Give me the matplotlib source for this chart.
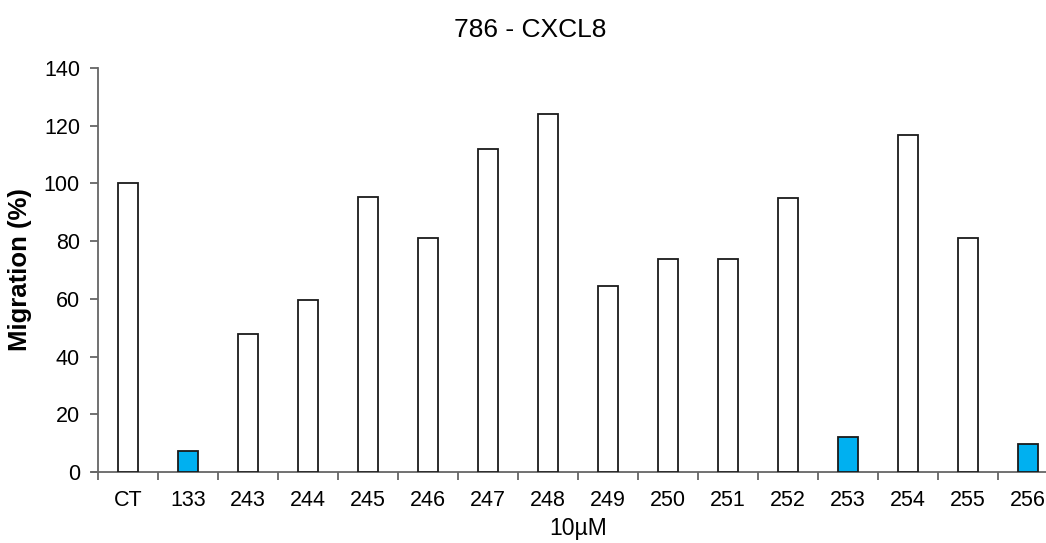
import matplotlib
matplotlib.use("Agg")
import matplotlib.pyplot as plt
import numpy as np

categories = ["CT", "133", "243", "244", "245", "246", "247", "248", "249",
              "250", "251", "252", "253", "254", "255", "256"]
migration = [100, 7.3, 47.8, 59.6, 95.3, 81.1, 111.9, 124, 64.4,
             73.8, 73.8, 95, 12.1, 116.8, 81.1, 9.7]
highlight = ["133", "253", "256"]

plt.rcParams['font.family'] = ['Liberation Sans', 'DejaVu Sans']

fig = plt.figure(figsize=(10.46, 5.43), dpi=100)
ax = fig.add_axes([98/1046, 71/543, 960/1046, 404/543])

x = np.arange(len(categories))
colors = ['#00B0F0' if c in highlight else 'white' for c in categories]
ax.bar(x, migration, width=0.33, color=colors, edgecolor='#1a1a1a', linewidth=1.3, zorder=3)

ax.set_xlim(-0.5, 15.5)
ax.set_ylim(0, 140)
ax.set_yticks(np.arange(0, 141, 20))
ax.set_xticks(np.arange(-0.5, 15.6, 1))
ax.set_xticklabels([])
ax.set_xticks(x, minor=True)
ax.set_xticklabels(categories, minor=True)
ax.tick_params(axis='x', which='minor', length=0, pad=13, labelsize=15.5)
ax.tick_params(axis='x', which='major', length=6, width=1.3, color='#666666', direction='out')
ax.tick_params(axis='y', length=6, width=1.3, color='#666666', direction='out', labelsize=15.5, pad=7)

for s in ['top', 'right']:
    ax.spines[s].set_visible(False)
for s in ['left', 'bottom']:
    ax.spines[s].set_color('#666666')
    ax.spines[s].set_linewidth(1.3)
ax.spines['bottom'].set_bounds(-0.6, 15.5)
ax.spines['bottom'].set_clip_on(False)

ax.set_ylabel("Migration (%)", fontsize=18.5, fontweight='bold')
ax.yaxis.label.set_va('center')
ax.yaxis.label.set_rotation_mode('anchor')
ax.yaxis.set_label_coords(-(98 - 20) / 960, (472 - 270) / 404)
ax.set_xlabel("10µM", fontsize=16.5)
ax.xaxis.set_label_coords((578 - 98) / 960, -(529 - 472) / 404)
ax.xaxis.label.set_va('center')
fig.text(530/1046, 1 - 30/543, "786 - CXCL8", fontsize=19, ha='center', va='center')

fig.savefig("out.png", dpi=100)
